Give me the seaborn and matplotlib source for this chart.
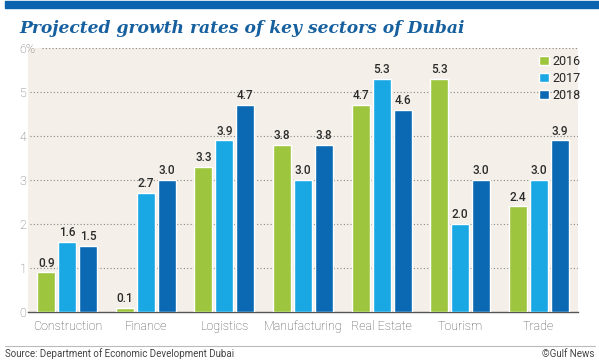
import numpy as np
import pandas as pd
import matplotlib.pyplot as plt
import seaborn as sns
from matplotlib.patches import Rectangle
from matplotlib.lines import Line2D

sectors = ['Construction', 'Finance', 'Logistics', 'Manufacturing', 'Real Estate', 'Tourism', 'Trade']
years = ['2016', '2017', '2018']
growth_2016 = [0.9, 0.1, 3.3, 3.8, 4.7, 5.3, 2.4]
growth_2017 = [1.6, 2.7, 3.9, 3.0, 5.3, 2.0, 3.0]
growth_2018 = [1.5, 3.0, 4.7, 3.8, 4.6, 3.0, 3.9]
yticks = [0, 1, 2, 3, 4, 5, 6]
ytick_labels = ['0', '1', '2', '3', '4', '5', '6%']
colors = ['#9dc53d', '#1aa8e5', '#0b69b3']

df = pd.DataFrame({
    'sector': sectors * 3,
    'year': [y for y in years for _ in sectors],
    'value': growth_2016 + growth_2017 + growth_2018,
})

sns.set_style('white')
plt.rcParams['font.family'] = ['Roboto', 'DejaVu Sans']

W, H = 599, 361
fig = plt.figure(figsize=(W / 100, H / 100), dpi=100)
fig.patch.set_facecolor('white')
ax = fig.add_axes([28 / W, 49 / H, 550 / W, 264 / H])
ax.set_facecolor('#f4f0e9')

sns.barplot(data=df, x='sector', y='value', hue='year', palette=colors,
            width=0.8, gap=0.14, saturation=1, ax=ax, zorder=3)

for c in ax.containers:
    ax.bar_label(c, fmt='%.1f', padding=2, fontsize=8.5, color='#2b2b2b', fontweight='medium')

ax.set_xlim(-0.5, 6.5)
ax.set_ylim(0, 6)
ax.set_yticks(yticks)
ax.set_yticklabels(ytick_labels)
for lab in ax.get_yticklabels():
    lab.set_ha('left')
ax.tick_params(axis='y', length=0, pad=6, labelsize=9, labelcolor='#707070')
ax.tick_params(axis='x', length=0, pad=6, labelsize=9, labelcolor='#4d4d4d')
for lab in ax.get_xticklabels() + ax.get_yticklabels():
    lab.set_fontweight('light')
ax.set_xlabel('')
ax.set_ylabel('')

for t in yticks[1:]:
    xmin = 0.026 if t == 6 else 0.004
    ax.axhline(t, xmin=xmin, xmax=1, color='#888888', lw=0.8, ls=(0, (1, 2)), zorder=1)

for s in ['top', 'right', 'left']:
    ax.spines[s].set_visible(False)
ax.spines['bottom'].set_color('#555555')
ax.spines['bottom'].set_linewidth(1)

ax.legend(loc='upper left', bbox_to_anchor=(533 / W, 1 - 49 / H), bbox_transform=fig.transFigure,
          frameon=False, fontsize=9, handlelength=0.75, handleheight=0.75,
          handletextpad=0.3, labelspacing=0.3, borderpad=0)

# top band and title
fig.patches.append(Rectangle((5 / W, 1 - 8 / H), 1, 7 / H, transform=fig.transFigure,
                             color='#0b63af', zorder=0))
fig.text(19 / W, 1 - 33 / H, 'Projected growth rates of key sectors of Dubai',
         family='DejaVu Serif', weight='bold', style='italic', fontsize=12.3,
         color='#17609f', va='baseline')

# footer
fig.add_artist(Line2D([5 / W, 595 / W], [1 - 346 / H, 1 - 346 / H], transform=fig.transFigure,
                      color='#bbbbbb', lw=0.8))
fig.text(5 / W, 1 - 354 / H, 'Source: Department of Economic Development Dubai',
         fontsize=7, color='#444444', va='center')
fig.text(594 / W, 1 - 354 / H, '©Gulf News', fontsize=7, color='#444444',
         va='center', ha='right')

fig.savefig('out.png', dpi=100)
